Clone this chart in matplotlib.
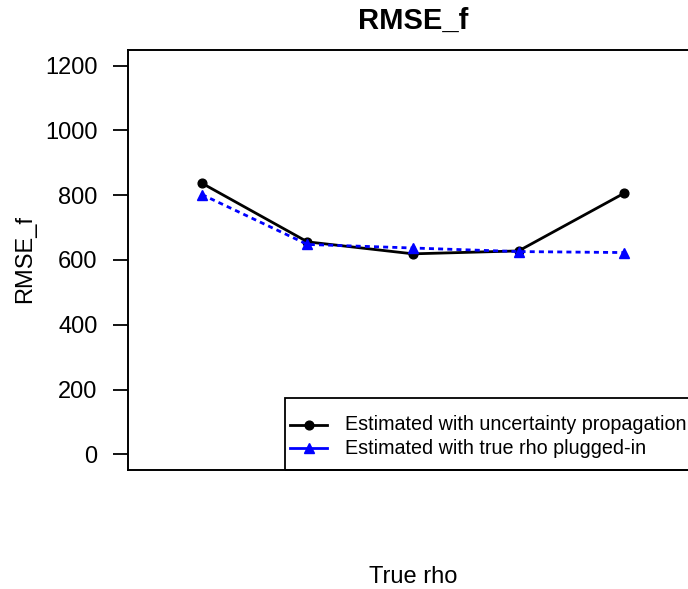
import matplotlib
matplotlib.use("Agg")
import matplotlib.pyplot as plt
from matplotlib.patches import Rectangle

plt.rcParams['font.family'] = ['Liberation Sans', 'DejaVu Sans']

x_pos = [1, 2, 3, 4, 5]
rmse_uncert = [837, 656, 619, 628, 806]
rmse_true = [802, 648, 637, 626, 623]
y_ticks = [0, 200, 400, 600, 800, 1000, 1200]
title = "RMSE_f"
xlabel = "True rho"
ylabel = "RMSE_f"
labels = ["Estimated with uncertainty propagation", "Estimated with true rho plugged-in"]

W, H = 688, 589
L, R, T, B = 128, 698, 50, 470
fig = plt.figure(figsize=(W / 100, H / 100), dpi=100)
ax = fig.add_axes([L / W, (H - B) / H, (R - L) / W, (B - T) / H])

LW = 2.0
styles = [
    dict(color='black', lw=LW, marker='o', ms=6.3, linestyle='-'),
    dict(color='#0000FF', lw=LW, marker='^', ms=7.4, linestyle=(0, (1.8, 1.5))),
]
ax.plot(x_pos, rmse_uncert, **styles[0])
ax.plot(x_pos, rmse_true, **styles[1])

ax.set_xlim(0.3, 5.7)
ax.set_ylim(-48, 1248)
ax.set_xticks([])
ax.set_yticks(y_ticks)
ax.set_yticklabels([str(v) for v in y_ticks], fontsize=17)
ax.tick_params(axis='y', length=11, width=1.3, pad=11, colors='black')
for s in ax.spines.values():
    s.set_linewidth(1.4)

ax.set_title(title, fontsize=21, fontweight='bold', pad=15)
fig.text(413 / W, 1 - 577 / H, xlabel, fontsize=17, ha='center', va='center')
fig.text(25 / W, 1 - 259 / H, ylabel, fontsize=17, ha='center', va='center', rotation=90)

# legend (drawn in axes coordinates)
def ax_x(px):
    return (px - L) / (R - L)

def ax_y(py):
    return (B - py) / (B - T)

ax.add_patch(Rectangle((ax_x(285), ax_y(470)), ax_x(700) - ax_x(285), ax_y(398) - ax_y(470),
                       transform=ax.transAxes, fill=False, edgecolor='black', lw=1.3,
                       clip_on=False, zorder=5))
rows = [425, 448]
for st, lab, py in zip(styles, labels, rows):
    ax.plot([ax_x(290), ax_x(327)], [ax_y(py), ax_y(py)], transform=ax.transAxes,
            clip_on=False, zorder=6, color=st['color'], lw=st['lw'], linestyle='-')
    ax.plot([ax_x(308.5)], [ax_y(py)], transform=ax.transAxes, clip_on=False, zorder=7,
            color=st['color'], marker=st['marker'], ms=st['ms'], linestyle='none')
    ax.text(ax_x(345), ax_y(py), lab, transform=ax.transAxes, fontsize=14.2,
            ha='left', va='center', zorder=7)

fig.savefig('out.png', dpi=100)
